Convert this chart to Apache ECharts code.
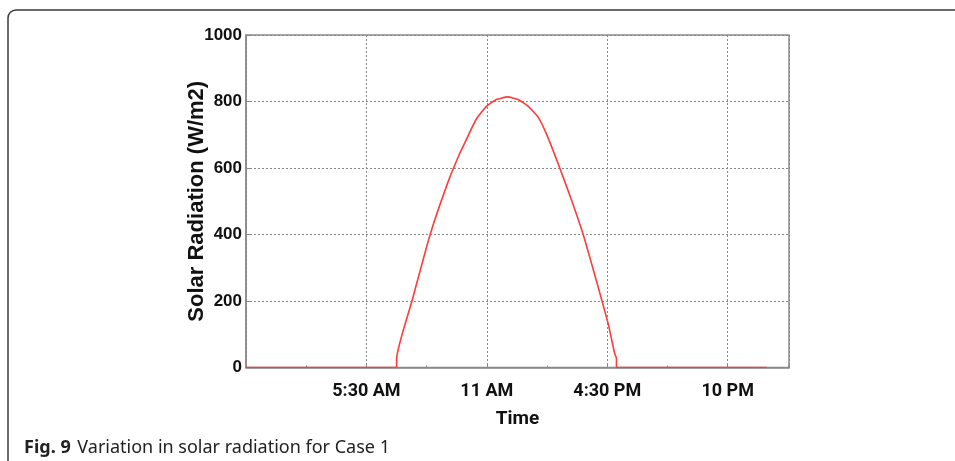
<!DOCTYPE html>
<html>
<head>
<meta charset="utf-8">
<script src="https://cdn.jsdelivr.net/npm/echarts@6/dist/echarts.min.js"></script>
<style>
html,body{margin:0;padding:0;background:#fff;}
#chart{width:955px;height:461px;}
</style>
</head>
<body>
<div id="chart"></div>
<script>
// Time of day in hours (0 = midnight)
const hours = [0, 6.88, 6.88, 7.58, 8.41, 9.25, 9.77, 9.99, 10.22, 10.53, 10.99, 11.44, 11.95, 12.43, 12.88, 13.34, 13.75, 14.33, 14.87, 15.40, 15.85, 16.26, 16.54, 16.84, 16.92, 16.92, 23.78];
// Solar radiation (W/m2)
const radiation = [0, 0, 27, 200, 400, 562, 645, 675, 708, 748, 786, 806, 814, 806, 786, 753, 698, 600, 503, 400, 297, 200, 132, 42, 27, 0, 0];
const tickHours = [0, 5.5, 11, 16.5, 22];
const tickLabels = ['', '5:30 AM', '11 AM', '4:30 PM', '10 PM'];
const yTicks = [0, 200, 400, 600, 800, 1000];

const chart = echarts.init(document.getElementById('chart'));
const option = {
  animation: false,
  backgroundColor: '#fff',
  grid: {left: 246, top: 35, right: 166, bottom: 93.5, show: true, borderColor: '#8a8a8a', borderWidth: 1.5, backgroundColor: 'transparent'},
  xAxis: {
    type: 'value', min: 0, max: 24.8, interval: 5.5,
    name: 'Time', nameLocation: 'middle', nameGap: 42, nameMoveOverlap: false,
    nameTextStyle: {fontFamily: 'Roboto', fontWeight: 'bold', fontSize: 19, color: '#111'},
    axisLine: {show: true, lineStyle: {color: '#8a8a8a', width: 1.5}},
    axisTick: {show: true, inside: true, length: 4, lineStyle: {color: '#8a8a8a'}},
    minorTick: {show: true, splitNumber: 2, length: 2, lineStyle: {color: '#8a8a8a'}},
    axisLabel: {
      margin: 15, fontFamily: 'Roboto', fontWeight: 'bold', fontSize: 18, color: '#111',
      formatter: function (v) {
        for (let i = 0; i < tickHours.length; i++) if (Math.abs(tickHours[i] - v) < 1e-6) return tickLabels[i];
        return '';
      }
    },
    splitLine: {show: true, lineStyle: {type: [2, 2], color: '#888', width: 1}}
  },
  yAxis: {
    type: 'value', min: 0, max: 1000, interval: 200,
    name: 'Solar Radiation (W/m2)', nameLocation: 'middle', nameGap: 38, nameMoveOverlap: false,
    nameTextStyle: {fontFamily: 'Liberation Sans', fontWeight: 'bold', fontSize: 22, color: '#111'},
    axisLine: {show: true, lineStyle: {color: '#8a8a8a', width: 1.5}},
    axisTick: {show: true, inside: true, length: 4, lineStyle: {color: '#8a8a8a'}},
    axisLabel: {
      margin: 4, fontFamily: 'Liberation Sans', fontWeight: 'bold', fontSize: 17, color: '#111',
      formatter: function (v) { return yTicks.indexOf(v) >= 0 ? String(v) : ''; }
    },
    splitLine: {show: true, lineStyle: {type: [2, 2], color: '#888', width: 1}}
  },
  series: [{
    type: 'line',
    data: hours.map((h, i) => [h, radiation[i]]),
    showSymbol: false,
    smooth: 0.15,
    lineStyle: {color: '#ff3b3b', width: 1.6},
    z: 5
  }],
  graphic: [
    {type: 'rect', x: 0, y: 0, shape: {x: 8, y: 10, width: 1000, height: 500, r: 8},
     style: {fill: 'none', stroke: '#3a3a3a', lineWidth: 1.5}, silent: true},
    {type: 'text', x: 24, y: 439,
     style: {
       text: '{b|Fig. 9}  {r|Variation in solar radiation for Case 1}',
       rich: {
         b: {fontFamily: 'Noto Sans', fontWeight: 'bold', fontSize: 18, fill: '#222'},
         r: {fontFamily: 'Noto Sans', fontWeight: 'normal', fontSize: 18, fill: '#222'}
       }
     }}
  ]
};
chart.setOption(option);
</script>
</body>
</html>
